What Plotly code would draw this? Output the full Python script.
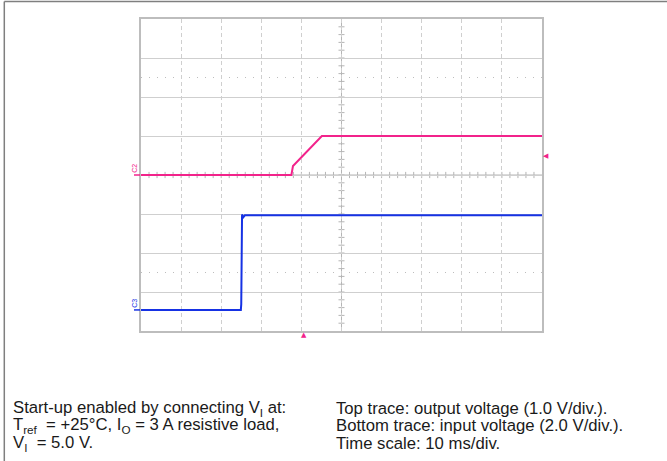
"""Scope capture: start-up enabled by connecting V_I (C2 = output, C3 = input)."""
import plotly.graph_objects as go

# --- data (time in ms, voltage in V) ---------------------------------------
out_t = [0, 37.5, 37.9, 45.1, 100]
out_v = [0, 0, 0.23, 1.0, 1.0]
in_t = [0, 24.9, 25.0, 25.2, 25.5, 25.9, 100]
in_v = [0, 0, 0.3, 4.9, 4.75, 4.85, 4.85]

OUT_VDIV, OUT_OFFSET = 1.0, 0.0      # V/div, ground position in divisions
IN_VDIV, IN_OFFSET = 2.0, -3.46
TRIG_T, TRIG_LEVEL = 40.7, 0.5        # ms, V (on C2)

left_lines = [
    "Start-up enabled by connecting V<sub>I</sub> at:",
    "T<sub>ref</sub>  = +25°C, I<sub>O</sub> = 3 A resistive load,",
    "V<sub>I</sub>  = 5.0 V.",
]
right_lines = [
    "Top trace: output voltage (1.0 V/div.).",
    "Bottom trace: input voltage (2.0 V/div.).",
    "Time scale: 10 ms/div.",
]

PINK = "#f2238b"
BLUE = "#1632e4"
GRID = "#cfcfcf"
TICK = "#b5b5b5"

W, H = 667, 461
L, R, T, B = 141, 125, 19, 130


def px_x(p):
    return (p - L) / (W - L - R)


def px_y(p):
    return (H - B - p) / (H - T - B)


def to_div(vals, vdiv, off):
    return [v / vdiv + off for v in vals]


fig = go.Figure()

fig.add_trace(go.Scatter(x=out_t, y=to_div(out_v, OUT_VDIV, OUT_OFFSET), mode="lines",
                         line=dict(color=PINK, width=2), hoverinfo="skip"))
fig.add_trace(go.Scatter(x=in_t, y=to_div(in_v, IN_VDIV, IN_OFFSET), mode="lines",
                         line=dict(color=BLUE, width=2), hoverinfo="skip"))

shapes = []
# dotted 10%/90% lines
for yy in (2.5, -2.5):
    shapes.append(dict(type="line", xref="x", yref="y", x0=0, x1=100, y0=yy, y1=yy,
                       line=dict(color="#bdbdbd", width=1, dash="1px,7px"), layer="below"))
# centre cross with minor ticks
shapes.append(dict(type="line", xref="x", yref="y", x0=0, x1=100, y0=0, y1=0,
                   line=dict(color=TICK, width=1), layer="below"))
shapes.append(dict(type="line", xref="x", yref="y", x0=50, x1=50, y0=-4, y1=4,
                   line=dict(color=TICK, width=1), layer="below"))
for i in range(1, 50):
    xt = i * 2
    shapes.append(dict(type="line", xref="x", yref="y", x0=xt, x1=xt, y0=-0.08, y1=0.08,
                       line=dict(color=TICK, width=1), layer="below"))
for i in range(1, 40):
    yt = -4 + i * 0.2
    shapes.append(dict(type="line", xref="x", yref="y", x0=49.25, x1=50.75, y0=yt, y1=yt,
                       line=dict(color=TICK, width=1), layer="below"))

# channel ground markers
for off, col in ((OUT_OFFSET, PINK), (IN_OFFSET, BLUE)):
    shapes.append(dict(type="line", xref="paper", yref="y", x0=px_x(134), x1=px_x(140),
                       y0=off, y1=off, line=dict(color=col, width=1.5)))

# outer frame (left + top)
shapes.append(dict(type="line", xref="paper", yref="paper", x0=px_x(4.3), x1=px_x(4.3),
                    y0=px_y(1.5), y1=px_y(461), line=dict(color="#7f7f7f", width=1.5)))
shapes.append(dict(type="line", xref="paper", yref="paper", x0=px_x(4.3), x1=px_x(667),
                    y0=px_y(1.5), y1=px_y(1.5), line=dict(color="#7f7f7f", width=1.5)))

FONT = "Liberation Sans, Arial, sans-serif"
annotations = [
    dict(text="C2", x=px_x(135), y=0.16, xref="paper", yref="y", textangle=-90,
         showarrow=False, font=dict(size=7, color=PINK, family=FONT), xanchor="center"),
    dict(text="C3", x=px_x(135), y=IN_OFFSET + 0.16, xref="paper", yref="y", textangle=-90,
         showarrow=False, font=dict(size=7, color=BLUE, family=FONT), xanchor="center"),
    # trigger position (time) and trigger level (on C2)
    dict(text="▲", x=TRIG_T, y=px_y(334.5), xref="x", yref="paper", showarrow=False,
         font=dict(size=7, color=PINK, family="DejaVu Sans"), xanchor="center", yanchor="middle"),
    dict(text="◀", x=px_x(545.5), y=TRIG_LEVEL / OUT_VDIV + OUT_OFFSET, xref="paper", yref="y",
         showarrow=False, font=dict(size=7, color=PINK, family="DejaVu Sans"),
         xanchor="center", yanchor="middle"),
]
for col_x, lines in ((11, left_lines), (334, right_lines)):
    for k, txt in enumerate(lines):
        annotations.append(dict(
            text=txt, x=px_x(col_x), y=px_y(408 + 17.5 * k), xref="paper", yref="paper",
            xanchor="left", yanchor="middle", align="left", showarrow=False,
            font=dict(size=16.7, color="#1a1a1a", family=FONT)))

fig.update_layout(
    width=W, height=H,
    margin=dict(l=L, r=R, t=T, b=B),
    paper_bgcolor="white", plot_bgcolor="white",
    showlegend=False,
    shapes=shapes,
    annotations=annotations,
    xaxis=dict(range=[0, 100], dtick=10, tick0=0, showticklabels=False, ticks="",
               showgrid=True, gridcolor=GRID, griddash="4px,3px", gridwidth=1,
               zeroline=False, showline=True, linecolor="#bdbdbd", linewidth=1.5, mirror=True,
               fixedrange=True),
    yaxis=dict(range=[-4, 4], dtick=1, tick0=0, showticklabels=False, ticks="",
               showgrid=True, gridcolor=GRID, gridwidth=1,
               zeroline=False, showline=True, linecolor="#bdbdbd", linewidth=1.5, mirror=True,
               fixedrange=True),
)

# the page body has a default 8px margin; drop it so the figure sits at the corner
fig.write_html("out.html", config={"displayModeBar": False},
               post_script="document.body.style.margin='0';")
